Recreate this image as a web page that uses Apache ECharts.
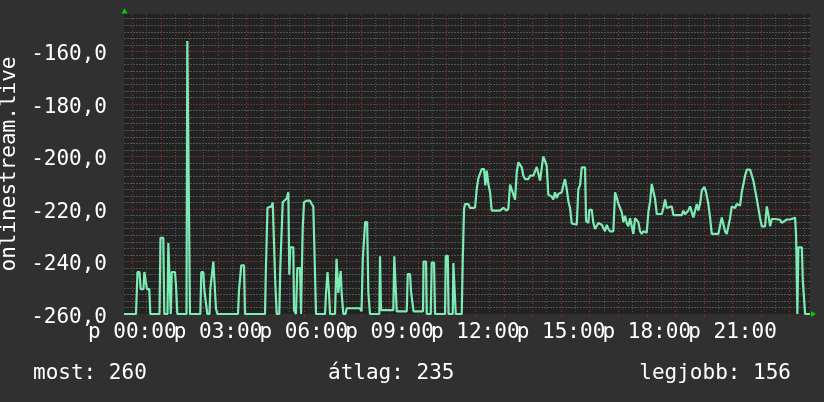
<!DOCTYPE html>
<html><head><meta charset="utf-8">
<script src="https://cdn.jsdelivr.net/npm/echarts@6/dist/echarts.min.js"></script>
<style>html,body{margin:0;padding:0;background:#303030;}#c{width:824px;height:402px;}</style>
</head><body><div id="c"></div>
<script>
// minutes relative to midnight
const timeMinutes = [-17.4,7.8,10.9,15.1,17.6,23.5,25.2,28.8,30.9,35.7,37.8,57.1,59.2,65.1,67.2,73.9,75.6,79.1,80.8,82.9,89.6,91.7,94.5,113.8,115.5,119.0,121.1,142.8,144.9,149.1,151.0,154.7,157.5,162.1,163.8,167.3,170.1,173.6,175.7,178.5,221.9,224.0,227.2,228.8,234.5,236.6,278.6,280.3,283.8,292.2,294.8,298.1,300.2,303.2,308.6,310.7,313.2,315.8,324.1,327.5,329.6,331.7,338.0,339.5,343.7,346.4,352.1,354.2,356.3,357.7,360.5,366.1,373.1,376.6,380.0,385.7,404.6,406.7,409.9,413.0,415.1,425.6,428.7,432.5,437.5,439.6,443.0,447.6,450.1,478.0,481.2,483.9,488.8,493.0,495.5,499.0,518.5,520.0,522.1,547.9,550.0,553.6,555.1,576.1,578.2,583.0,585.1,588.7,590.4,610.3,611.4,616.6,618.1,626.5,628.6,633.4,635.5,656.5,658.0,662.2,663.9,672.7,674.0,677.5,679.0,691.5,693.6,696.4,698.5,705.4,709.0,715.3,719.5,723.0,726.4,730.0,733.5,738.4,741.1,744.1,747.4,751.0,754.5,757.9,772.0,778.9,786.0,789.4,793.0,796.5,799.9,803.5,807.0,810.4,814.0,817.5,820.9,824.5,831.4,835.0,841.9,845.5,849.0,852.4,856.0,859.6,862.6,866.2,869.9,873.3,880.4,883.8,887.3,890.9,894.3,901.5,904.8,908.4,912.0,915.3,918.9,922.5,933.0,936.3,939.9,943.5,950.4,952.5,957.3,959.4,964.5,967.8,971.4,978.3,985.5,988.8,992.4,996.0,999.3,1002.9,1009.8,1013.4,1016.9,1020.3,1023.9,1027.4,1030.8,1034.4,1037.9,1041.3,1044.9,1048.4,1051.8,1055.4,1059.0,1062.3,1065.9,1069.5,1072.8,1079.9,1083.3,1086.9,1090.4,1093.8,1097.4,1101.0,1111.4,1114.8,1118.4,1121.9,1125.3,1132.4,1135.8,1153.4,1156.8,1160.3,1163.9,1167.2,1170.8,1174.4,1177.8,1181.3,1184.9,1188.2,1191.8,1195.4,1198.7,1200.8,1204.4,1209.2,1212.8,1216.4,1230.2,1233.8,1237.4,1240.7,1244.3,1247.8,1251.2,1254.8,1258.3,1265.3,1268.8,1275.8,1279.4,1282.7,1286.3,1289.9,1296.8,1300.4,1303.7,1307.3,1310.9,1314.2,1317.8,1321.4,1328.3,1331.9,1335.3,1338.8,1342.4,1349.3,1352.9,1359.8,1363.4,1366.7,1373.8,1380.8,1384.3,1391.3,1393.4,1396.1,1398.2,1405.4,1407.5,1412.3,1422.6];
const values = [-260,-260,-244,-244,-250.5,-250.5,-244,-244,-250.5,-250.5,-260,-260,-231,-231,-260,-260,-233,-233,-260,-244,-244,-249,-260,-260,-156,-156,-260,-260,-244,-244,-250.5,-250.5,-260,-260,-250.5,-250.5,-240,-240,-258,-260,-260,-251,-251,-241.5,-241.5,-260,-260,-244,-219.5,-219,-217.5,-217.5,-248.5,-260,-260,-242.2,-242.2,-217.4,-216,-213.6,-245,-234.6,-234.6,-258.6,-260,-242.5,-242.5,-260,-260,-227.6,-217.4,-216.8,-216.8,-218.1,-219,-260,-260,-252,-244,-252,-260,-260,-239,-252,-243.6,-252.4,-260,-260,-257.8,-257.8,-259,-239,-225,-225,-251.7,-260,-260,-238,-258.5,-258.5,-238,-238,-259,-259,-244.8,-244.8,-251.4,-251.4,-259,-259,-240,-240,-260,-260,-240.4,-240.4,-260,-260,-237.8,-237.8,-260,-260,-240.6,-240.6,-260,-260,-240.3,-220,-218.1,-218.1,-219.6,-219.6,-219.5,-212.4,-208.3,-208.3,-204.8,-204.8,-211,-205.4,-210.5,-213.6,-220.6,-220.6,-220.6,-219.6,-220.6,-219.8,-210.7,-212.6,-212.6,-216.4,-206,-202.2,-202.2,-204.1,-207.3,-208.6,-208.6,-207.3,-207.3,-206.6,-204,-204,-209.2,-208.6,-200,-201.6,-203.6,-214.5,-215.3,-216.4,-213.6,-215.8,-214.3,-213.6,-211,-208.6,-212.4,-217,-219.6,-225.5,-226,-212.4,-211,-204.1,-204.1,-224.6,-225.3,-220.3,-220.3,-225.3,-227.6,-225.3,-226,-226.6,-228.5,-226,-227.6,-228.5,-228.5,-213.6,-215.6,-218,-218,-221.2,-225,-222.6,-225.3,-226.6,-223.5,-223.5,-229.5,-223.5,-224,-225,-228.5,-229.5,-228.5,-229,-221.2,-217.2,-210.5,-210.5,-216.2,-221.9,-221.9,-219.6,-216.4,-219.6,-219,-219,-222.3,-222.3,-220.6,-222,-222,-220.6,-219,-219,-223.2,-222.8,-218.1,-220.6,-218.1,-213,-213,-211.6,-213.6,-218.1,-223.2,-229.5,-229.5,-229,-223.2,-223.2,-228.5,-229.5,-229,-223.5,-219,-219.6,-218.1,-218.7,-213.6,-214.2,-207.3,-205,-205,-205.6,-209.2,-209.2,-216.2,-216.8,-223.5,-226.6,-226.6,-219,-222.3,-226.6,-223.8,-223.8,-224.1,-224.1,-225.3,-225,-224,-224,-223.3,-223.3,-230.2,-260,-234.6,-234.6,-247.3,-260,-260];
const hourLabelMinutes = [0,180,360,540,720,900,1080,1260];
const yTicks = [-260,-240,-220,-200,-180,-160];
const yMinorStep = 2.5;
const yAxisTitle = 'onlinestream.live';
const summaryTexts = ['most: 260','átlag: 235','legjobb: 156'];

const X_MIN = -17.4, X_MAX = 1422.6, Y_MIN = -260, Y_MAX = -145.7;
const GL = 124, GT = 14, GW = 686, GH = 300;
const FONT = 'DejaVu Sans Mono';
const chart = echarts.init(document.getElementById('c'), null, {renderer:'canvas'});
const pad = n => (n < 10 ? '0' : '') + n;

const MINOR_COLOR = '#515151', MAJOR_COLOR = '#6e2e2e';
// grid positions derived from tick arrays
const xMajorVals = [], xMinorVals = [];
for (let m = 0; m <= X_MAX; m += 60) xMajorVals.push(m);
for (let m = 30; m <= X_MAX; m += 60) xMinorVals.push(m);
const yMajorVals = yTicks.filter(v => v > Y_MIN);
const yMinorVals = [];
for (let v = Y_MIN + yMinorStep; v < Y_MAX; v += yMinorStep) {
  if (Math.abs(v % 20) > 1e-6) yMinorVals.push(v);
}
const lineData = timeMinutes.map((t, i) => [t, values[i]]);

const labelStyle = {color: '#ffffff', fontFamily: FONT, fontSize: 21};
const fmtX = v => 'p ' + pad(Math.round(v / 60)) + ':00';
function gridAxisX(vals, color, dash) {
  return {type: 'value', min: X_MIN, max: X_MAX, gridIndex: 0, position: 'bottom',
    axisLine: {show: false}, axisLabel: {show: false},
    axisTick: {show: false, customValues: vals},
    splitLine: {show: true, lineStyle: {color: color, type: dash, width: 1}}};
}
function gridAxisY(vals, color, dash) {
  return {type: 'value', min: Y_MIN, max: Y_MAX, gridIndex: 0, position: 'left',
    axisLine: {show: false}, axisLabel: {show: false},
    axisTick: {show: false, customValues: vals},
    splitLine: {show: true, lineStyle: {color: color, type: dash, width: 1}}};
}

chart.setOption({
  animation: false,
  backgroundColor: '#303030',
  grid: {left: GL, top: GT, width: GW, height: GH, show: true, backgroundColor: '#222222', borderWidth: 0,
         containLabel: false, outerBoundsMode: 'none'},
  xAxis: [
    {
      type: 'value', min: X_MIN, max: X_MAX, position: 'bottom',
      axisLine: {show: false}, splitLine: {show: false},
      axisTick: {show: true, customValues: xMajorVals, length: 3, lineStyle: {color: MAJOR_COLOR, width: 1}},
      axisLabel: Object.assign({customValues: hourLabelMinutes.filter((v, i) => i % 2 === 0),
        showMinLabel: true, showMaxLabel: true, hideOverlap: false, formatter: fmtX, margin: 8}, labelStyle)
    },
    {
      type: 'value', min: X_MIN, max: X_MAX, position: 'bottom',
      axisLine: {show: false}, splitLine: {show: false},
      axisTick: {show: false, customValues: hourLabelMinutes.filter((v, i) => i % 2 === 1)},
      axisLabel: Object.assign({customValues: hourLabelMinutes.filter((v, i) => i % 2 === 1),
        showMinLabel: true, showMaxLabel: true, hideOverlap: false, formatter: fmtX, margin: 8}, labelStyle)
    },
    gridAxisX(xMinorVals, MINOR_COLOR, [1, 2]),
    gridAxisX(xMajorVals, MAJOR_COLOR, [2, 2])
  ],
  yAxis: [
    {
      type: 'value', min: Y_MIN, max: Y_MAX, interval: 20,
      name: yAxisTitle, nameLocation: 'middle', nameRotate: 90, nameGap: 99,
      nameTextStyle: {color: '#ffffff', fontFamily: FONT, fontSize: 21},
      axisLine: {show: false}, axisTick: {show: false}, splitLine: {show: false},
      axisLabel: Object.assign({showMaxLabel: false, showMinLabel: true, verticalAlign: 'top', lineHeight: 7,
        formatter: v => v.toFixed(1).replace('.', ','), margin: 17}, labelStyle)
    },
    gridAxisY(yMinorVals, MINOR_COLOR, [2, 1]),
    gridAxisY(yMajorVals, MAJOR_COLOR, [2, 1])
  ],
  graphic: [
    {type: 'polygon', silent: true, shape: {points: [[GL - 2.5, GT - 0.5], [GL + 3.5, GT - 0.5], [GL + 0.5, GT - 6]]}, style: {fill: '#00cc00'}},
    {type: 'polygon', silent: true, shape: {points: [[GL + GW + 1, GT + GH - 3], [GL + GW + 1, GT + GH + 3], [GL + GW + 6, GT + GH]]}, style: {fill: '#00cc00'}},
    {type: 'text', left: 33, top: 363, style: {text: summaryTexts[0], fill: '#ffffff', font: '21px "DejaVu Sans Mono"'}},
    {type: 'text', left: 328, top: 363, style: {text: summaryTexts[1], fill: '#ffffff', font: '21px "DejaVu Sans Mono"'}},
    {type: 'text', right: 33, top: 363, style: {text: summaryTexts[2], fill: '#ffffff', font: '21px "DejaVu Sans Mono"'}}
  ],
  series: [
    {type: 'line', data: lineData, xAxisIndex: 0, yAxisIndex: 0, z: 3, showSymbol: false, symbol: 'none',
     lineStyle: {color: '#7debb4', width: 2.2}, silent: true}
  ]
});
</script>
</body></html>
